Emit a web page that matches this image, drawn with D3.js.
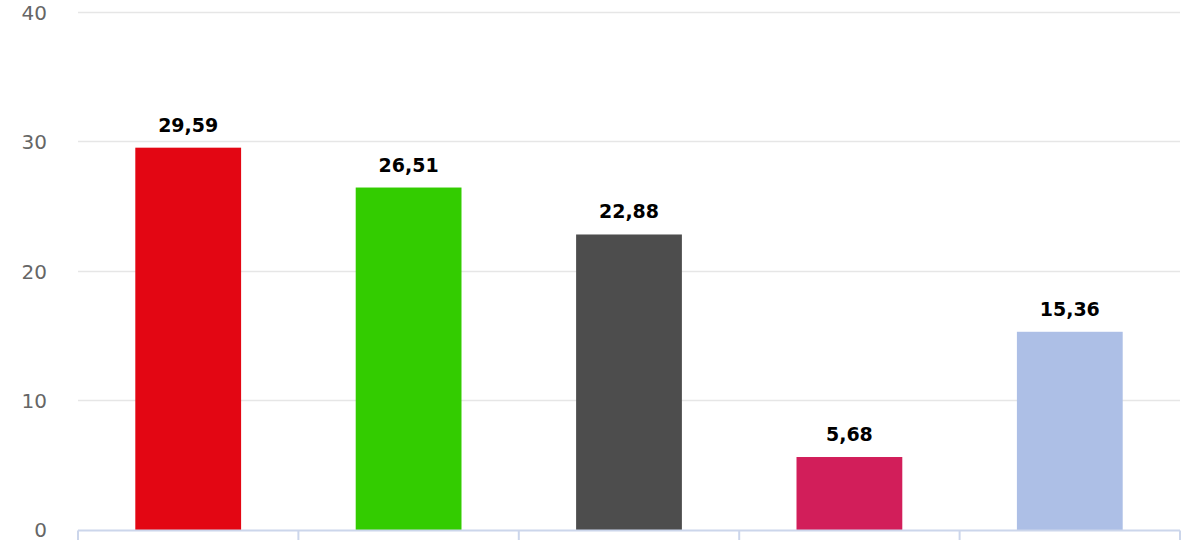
<!DOCTYPE html>
<html>
<head>
<meta charset="utf-8">
<script src="https://cdn.jsdelivr.net/npm/d3@7"></script>
<style>
  body { margin: 0; background: #fff; }
  svg { display: block; font-family: "DejaVu Sans", sans-serif; }
</style>
</head>
<body>
<svg id="chart" width="1200" height="540"></svg>
<script>
// data
var categories = ["A", "B", "C", "D", "E"];
var values = [29.59, 26.51, 22.88, 5.68, 15.36];
var colors = ["#e30613", "#33cc00", "#4d4d4d", "#d21e5a", "#adbfe6"];
var yTicks = [0, 10, 20, 30, 40];

var svg = d3.select("svg#chart");

var x = d3.scaleBand().domain(categories).range([78, 1180]);
var y = d3.scaleLinear().domain([0, 40]).range([530.5, 13]);

// grid lines
svg.append("g")
  .selectAll("line").data(yTicks.filter(d => d > 0))
  .enter().append("line")
  .attr("x1", 78).attr("x2", 1180)
  .attr("y1", d => Math.round(y(d)) - 0.5)
  .attr("y2", d => Math.round(y(d)) - 0.5)
  .attr("stroke", "#e6e6e6")
  .attr("stroke-width", 1.5);

// y labels
svg.append("g")
  .selectAll("text").data(yTicks)
  .enter().append("text")
  .attr("x", 47)
  .attr("y", d => y(d))
  .attr("dy", "0.34em")
  .attr("text-anchor", "end")
  .attr("fill", "#666666")
  .attr("font-size", "20px")
  .text(d => d);

// bars
var bw = x.bandwidth() * 0.48;
svg.append("g")
  .selectAll("rect").data(values)
  .enter().append("rect")
  .attr("x", (d, i) => x(categories[i]) + x.bandwidth() / 2 - bw / 2)
  .attr("width", bw)
  .attr("y", d => y(d))
  .attr("height", d => y(0) - y(d))
  .attr("fill", (d, i) => colors[i]);

// value labels
svg.append("g")
  .selectAll("text").data(values)
  .enter().append("text")
  .attr("x", (d, i) => x(categories[i]) + x.bandwidth() / 2)
  .attr("y", d => y(d) - 16)
  .attr("text-anchor", "middle")
  .attr("font-size", "19px")
  .attr("font-weight", "bold")
  .attr("fill", "#000")
  .text(d => d.toFixed(2).replace(".", ","));

// x axis
var xAxis = d3.axisBottom(x).tickSize(0).tickFormat("");
svg.append("g")
  .attr("transform", "translate(0," + y(0) + ")")
  .call(xAxis)
  .call(g => g.select(".domain").attr("stroke", "#ccd6eb").attr("stroke-width", 2).attr("d", "M78,0H1180"));

// x ticks at band edges
var edges = categories.map(c => x(c)).concat([x.range()[1]]);
svg.append("g")
  .selectAll("line").data(edges)
  .enter().append("line")
  .attr("x1", d => d).attr("x2", d => d)
  .attr("y1", y(0)).attr("y2", y(0) + 10)
  .attr("stroke", "#ccd6eb")
  .attr("stroke-width", 2);
</script>
</body>
</html>
